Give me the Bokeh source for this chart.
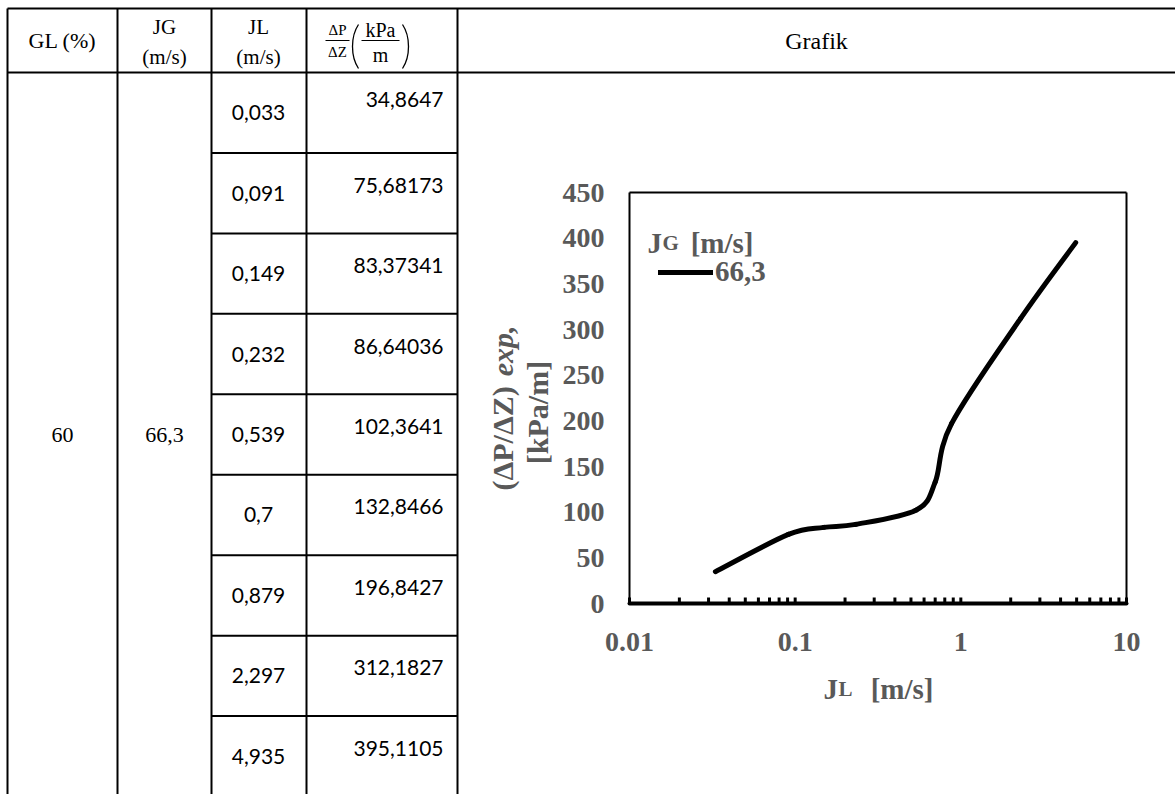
import math
from bokeh.plotting import figure
from bokeh.models import Range1d, LogScale, Legend, LegendItem, ColumnDataSource
from bokeh.embed import file_html
from bokeh.resources import INLINE
from bokeh.core.properties import value

# ---------------- data ----------------
gl_value = "60"
jg_value = "66,3"
jl = [0.033, 0.091, 0.149, 0.232, 0.539, 0.7, 0.879, 2.297, 4.935]
dpdz = [34.8647, 75.68173, 83.37341, 86.64036, 102.3641, 132.8466, 196.8427, 312.1827, 395.1105]
x_ticks = [0.01, 0.1, 1, 10]
x_tick_labels = ["0.01", "0.1", "1", "10"]
x_minor_mult = [2, 3, 4, 5, 6, 7, 8, 9]
y_ticks = [0, 50, 100, 150, 200, 250, 300, 350, 400, 450]
legend_label = "66,3"
header_gl = "GL (%)"
header_grafik = "Grafik"


def fmt(v):
    return str(v).replace(".", ",")


W, H = 1175, 794
GREY = "#595959"
SERIF = "Liberation Serif"

# chart frame in page pixels
FL, FR, FT, FB = 629, 1126, 192, 603
decades = math.log10(x_ticks[-1]) - math.log10(x_ticks[0])


def XD(px):
    return 10 ** (math.log10(x_ticks[0]) + decades * (px - FL) / (FR - FL))


def YD(py):
    return y_ticks[0] + (y_ticks[-1] - y_ticks[0]) * (FB - py) / (FB - FT)


p = figure(width=W, height=H, x_range=Range1d(0, W), y_range=Range1d(H, 0),
           output_backend="svg", toolbar_location=None, min_border=0,
           x_axis_location=None, y_axis_location=None, outline_line_color=None,
           background_fill_color="white", border_fill_color="white")
p.grid.visible = False
p.extra_x_ranges = {"log": Range1d(XD(0), XD(W))}
p.extra_x_scales = {"log": LogScale()}
p.extra_y_ranges = {"v": Range1d(YD(H), YD(0))}

# ---------------- table ----------------
cols = [7, 117, 211, 306, 457]
top, hb = 8, 72
row_h = 80.45
nrows = len(jl)

p.segment(x0=cols, y0=[top] * len(cols), x1=cols, y1=[H + 10] * len(cols),
          line_color="black", line_width=2)
p.segment(x0=[cols[0], cols[0]], y0=[top, hb], x1=[W + 5, W + 5], y1=[top, hb],
          line_color="black", line_width=2)
ry = [hb + k * row_h for k in range(1, nrows)]
p.segment(x0=[cols[2]] * len(ry), y0=ry, x1=[cols[4]] * len(ry), y1=ry,
          line_color="black", line_width=2)


def ttext(x, y, txt, size, font=SERIF, align="center", style="normal", color="black",
          baseline="middle", angle=0.0):
    p.text(x=[x], y=[y], text=[txt], text_font=value(font), text_font_size=value(size),
           text_align=align, text_baseline=baseline, text_font_style=style,
           text_color=color, angle=angle)


# header texts
ttext(62, 40, header_gl, "22px")
ttext(164, 26, "JG", "21px")
ttext(164, 56, "(m/s)", "21px")
ttext(258, 26, "JL", "21px")
ttext(258, 56, "(m/s)", "21px")
ttext(337, 29, "ΔP", "15px")
ttext(337, 51, "ΔZ", "15px")
p.segment(x0=[325], y0=[40], x1=[349], y1=[40], line_color="black", line_width=1)
ttext(380, 29, "kPa", "20px")
ttext(380, 54, "m", "20px")
p.segment(x0=[361], y0=[40], x1=[399], y1=[40], line_color="black", line_width=1)
p.bezier(x0=[358, 402], y0=[24, 24], x1=[358, 402], y1=[68, 68],
         cx0=[350, 410], cy0=[36, 36], cx1=[350, 410], cy1=[56, 56],
         line_color="black", line_width=1.3)
ttext(816, 40, header_grafik, "24px")

# body
mid = (hb + hb + nrows * row_h) / 2
ttext(62, mid, gl_value, "22px")
ttext(164, mid, jg_value, "22px")
rc = [hb + (k + 0.5) * row_h for k in range(nrows)]
p.text(x=[258] * nrows, y=rc, text=[fmt(v) for v in jl], text_font=value("Lato"),
       text_font_size=value("21px"), text_align="center", text_baseline="middle")
off = [-13] + [-8] * (nrows - 1)
p.text(x=[443] * nrows, y=[c + o for c, o in zip(rc, off)], text=[fmt(v) for v in dpdz],
       text_font=value("Lato"), text_font_size=value("21px"), text_align="right",
       text_baseline="middle")

# ---------------- chart ----------------
X0, X1 = x_ticks[0], x_ticks[-1]
Y0, Y1 = y_ticks[0], y_ticks[-1]
# plot-area border (left, top, right)
p.segment(x0=[X0, X0, X1], y0=[Y0, Y1, Y1], x1=[X0, X1, X1], y1=[Y1, Y1, Y0],
          x_range_name="log", y_range_name="v", line_color="black", line_width=2)
# x axis line
p.segment(x0=[X0], y0=[Y0], x1=[X1], y1=[Y0], x_range_name="log", y_range_name="v",
          line_color="black", line_width=4, line_cap="round")
# ticks (inside)
minor = [m * d for d in x_ticks[:-1] for m in x_minor_mult]
all_ticks = x_ticks + minor
tick_len = 6 * (Y1 - Y0) / (FB - FT)
p.segment(x0=all_ticks, y0=[Y0] * len(all_ticks), x1=all_ticks,
          y1=[Y0 + tick_len] * len(all_ticks), x_range_name="log", y_range_name="v",
          line_color="black", line_width=3)
# tick labels
p.text(x=x_ticks, y=[641] * len(x_ticks), text=x_tick_labels, x_range_name="log",
       text_font=value(SERIF), text_font_style="bold", text_font_size=value("28px"),
       text_color=GREY, text_align="center", text_baseline="middle")
p.text(x=[604] * len(y_ticks), y=y_ticks, text=[str(v) for v in y_ticks], y_range_name="v",
       text_font=value(SERIF), text_font_style="bold", text_font_size=value("28px"),
       text_color=GREY, text_align="right", text_baseline="middle")

# smooth (Excel-style) curve from the data via bezier segments
u = [math.log10(v) for v in jl]
w = dpdz
n = len(u)
x0, y0, x1, y1, cx0, cy0, cx1, cy1 = [], [], [], [], [], [], [], []
for i in range(n - 1):
    a = max(i - 1, 0)
    d = min(i + 2, n - 1)
    x0.append(jl[i]); y0.append(w[i]); x1.append(jl[i + 1]); y1.append(w[i + 1])
    cx0.append(10 ** (u[i] + (u[i + 1] - u[a]) / 6)); cy0.append(w[i] + (w[i + 1] - w[a]) / 6)
    cx1.append(10 ** (u[i + 1] - (u[d] - u[i]) / 6)); cy1.append(w[i + 1] - (w[d] - w[i]) / 6)
src = ColumnDataSource(dict(x0=x0, y0=y0, x1=x1, y1=y1, cx0=cx0, cy0=cy0, cx1=cx1, cy1=cy1))
bez = p.bezier(x0="x0", y0="y0", x1="x1", y1="y1", cx0="cx0", cy0="cy0", cx1="cx1", cy1="cy1",
               source=src, x_range_name="log", y_range_name="v",
               line_color="black", line_width=5, line_cap="round")

leg = Legend(items=[LegendItem(label=legend_label, renderers=[bez])],
             location=(658, H - 288), padding=0, margin=0, spacing=0,
             border_line_color=None, background_fill_alpha=0,
             glyph_width=55, glyph_height=30, label_height=30, label_standoff=2,
             label_text_font=SERIF, label_text_font_style="bold",
             label_text_font_size="29px", label_text_color=GREY)
p.add_layout(leg)

# legend title  "JG [m/s]"
ttext(647, 242, "J", "29px", align="left", style="bold", color=GREY, baseline="alphabetic")
ttext(662, 242, "G", "21px", align="left", style="bold", color=GREY, baseline="alphabetic")
ttext(753, 242, "[m/s]", "29px", align="right", style="bold", color=GREY, baseline="alphabetic")
# x axis title "JL [m/s]"
ttext(823, 688, "J", "29px", align="left", style="bold", color=GREY, baseline="alphabetic")
ttext(838, 688, "L", "21px", align="left", style="bold", color=GREY, baseline="alphabetic")
ttext(933, 688, "[m/s]", "29px", align="right", style="bold", color=GREY, baseline="alphabetic")
# y axis title
ttext(502, 490, "(ΔP/ΔZ)", "30px", align="left", style="bold", color=GREY, angle=math.pi / 2)
ttext(502, 325, "exp,", "30px", align="right", style="bold italic", color=GREY, angle=math.pi / 2)
ttext(537, 412, "[kPa/m]", "30px", align="center", style="bold", color=GREY, angle=math.pi / 2)

open("out.html", "w").write(file_html(p, INLINE))
